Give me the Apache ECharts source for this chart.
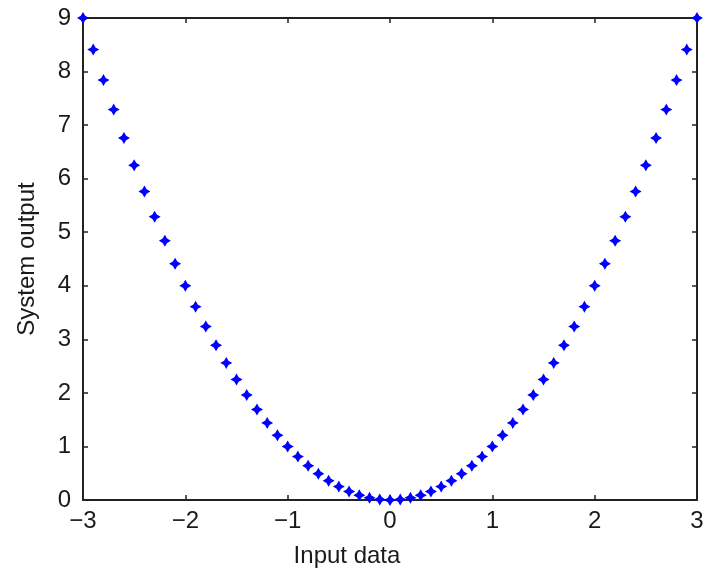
<!DOCTYPE html>
<html lang="en">
<head>
    <meta charset="UTF-8">
    <title>System output</title>
    <script src="https://cdn.jsdelivr.net/npm/echarts@6/dist/echarts.min.js"></script>
</head>
<body style="margin:0">
<div id="main" style="width: 711px;height:576px;"></div>
<script type="text/javascript">
    var inputData = [-3.0, -2.9, -2.8, -2.7, -2.6, -2.5, -2.4, -2.3, -2.2, -2.1,
        -2.0, -1.9, -1.8, -1.7, -1.6, -1.5, -1.4, -1.3, -1.2, -1.1,
        -1.0, -0.9, -0.8, -0.7, -0.6, -0.5, -0.4, -0.3, -0.2, -0.1,
        0.0, 0.1, 0.2, 0.3, 0.4, 0.5, 0.6, 0.7, 0.8, 0.9,
        1.0, 1.1, 1.2, 1.3, 1.4, 1.5, 1.6, 1.7, 1.8, 1.9,
        2.0, 2.1, 2.2, 2.3, 2.4, 2.5, 2.6, 2.7, 2.8, 2.9, 3.0];
    var systemOutput = [9.00, 8.41, 7.84, 7.29, 6.76, 6.25, 5.76, 5.29, 4.84, 4.41,
        4.00, 3.61, 3.24, 2.89, 2.56, 2.25, 1.96, 1.69, 1.44, 1.21,
        1.00, 0.81, 0.64, 0.49, 0.36, 0.25, 0.16, 0.09, 0.04, 0.01,
        0.00, 0.01, 0.04, 0.09, 0.16, 0.25, 0.36, 0.49, 0.64, 0.81,
        1.00, 1.21, 1.44, 1.69, 1.96, 2.25, 2.56, 2.89, 3.24, 3.61,
        4.00, 4.41, 4.84, 5.29, 5.76, 6.25, 6.76, 7.29, 7.84, 8.41, 9.00];

    var points = [];
    for (let i = 0; i < inputData.length; i++) {
        points.push([inputData[i], systemOutput[i]]);
    }

    var font = 'Liberation Sans';
    var lineStyle = {color: '#222', width: 2};
    var tickStyle = {color: '#222', width: 1.5};
    var minus = function (v) { return String(v).replace('-', '\u2212'); };

    var myChart = echarts.init(document.getElementById('main'));
    var option = {
        animation: false,
        textStyle: {fontFamily: font},
        grid: {left: 83, right: 14, top: 18, bottom: 76},
        xAxis: [
            {
                type: 'value', min: -3, max: 3, interval: 1,
                name: 'Input data', nameLocation: 'middle', nameGap: 44,
                nameTextStyle: {fontSize: 24, color: '#1a1a1a', fontFamily: font, padding: [0, 86, 0, 0]},
                axisLine: {onZero: false, lineStyle: lineStyle},
                axisTick: {inside: true, length: 5, lineStyle: tickStyle},
                axisLabel: {fontSize: 24, color: '#1a1a1a', margin: 9, formatter: minus},
                splitLine: {show: false}
            },
            {
                type: 'value', min: -3, max: 3, interval: 1, position: 'top',
                axisLine: {onZero: false, lineStyle: lineStyle},
                axisTick: {inside: true, length: 5, lineStyle: tickStyle},
                axisLabel: {show: false},
                splitLine: {show: false}
            }
        ],
        yAxis: [
            {
                type: 'value', min: 0, max: 9, interval: 1,
                name: 'System output', nameLocation: 'middle', nameGap: 44,
                nameTextStyle: {fontSize: 24, color: '#1a1a1a', fontFamily: font},
                axisLine: {onZero: false, lineStyle: lineStyle},
                axisTick: {inside: true, length: 5, lineStyle: tickStyle},
                axisLabel: {fontSize: 24, color: '#1a1a1a', margin: 12},
                splitLine: {show: false}
            },
            {
                type: 'value', min: 0, max: 9, interval: 1, position: 'right',
                axisLine: {onZero: false, lineStyle: lineStyle},
                axisTick: {inside: true, length: 5, lineStyle: tickStyle},
                axisLabel: {show: false},
                splitLine: {show: false}
            }
        ],
        series: [
            {
                type: 'scatter',
                data: points,
                clip: false,
                symbol: 'path://M0,-6 L2.2,-2.2 L6,0 L2.2,2.2 L0,6 L-2.2,2.2 L-6,0 L-2.2,-2.2 Z',
                symbolSize: 12,
                itemStyle: {color: '#0000ff', opacity: 1}
            }
        ]
    };
    myChart.setOption(option);
</script>
</body>
</html>
